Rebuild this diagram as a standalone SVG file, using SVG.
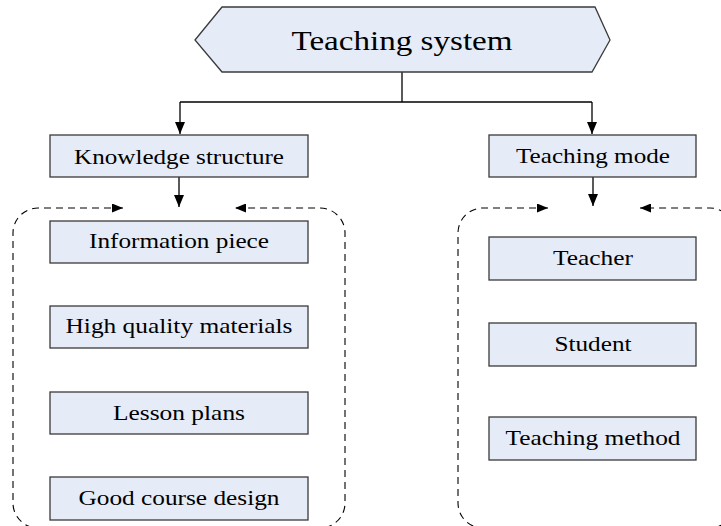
<svg xmlns="http://www.w3.org/2000/svg" width="721" height="526" viewBox="0 0 721 526">
  <style>
    .box { fill: #e6ecf7; stroke: #3a3a3a; stroke-width: 1.3; }
    .line { fill: none; stroke: #000; stroke-width: 1.3; }
    .dash { fill: none; stroke: #000; stroke-width: 1.1; stroke-dasharray: 7 5; }
  </style>
  <defs>
    <marker id="arr" markerUnits="userSpaceOnUse" markerWidth="12" markerHeight="10" refX="12" refY="5" orient="auto">
      <path d="M0,0 L12,5 L0,10 z" fill="#000"/>
    </marker>
    <marker id="darr" markerUnits="userSpaceOnUse" markerWidth="11" markerHeight="9" refX="11" refY="4.5" orient="auto-start-reverse">
      <path d="M0,0 L11,4.5 L0,9 z" fill="#000"/>
    </marker>
  </defs>

  <g id="connectors">
    <path class="line" d="M402,72 V102"/>
    <path class="line" d="M180,102 H592"/>
    <path class="line" d="M180,102 V134" marker-end="url(#arr)"/>
    <path class="line" d="M592,102 V134" marker-end="url(#arr)"/>
    <path class="line" d="M179,177 V207" marker-end="url(#arr)"/>
    <path class="line" d="M593,177 V206" marker-end="url(#arr)"/>
    <path class="dash" d="M123,208 H38 A25,25 0 0 0 13,233 V503 A25,25 0 0 0 38,528 H320 A25,25 0 0 0 345,503 V233 A25,25 0 0 0 320,208 H235" marker-start="url(#darr)" marker-end="url(#darr)"/>
    <path class="dash" d="M548,208 H483 A25,25 0 0 0 458,233 V503 A25,25 0 0 0 483,528 H710 A25,25 0 0 0 735,503 V233 A25,25 0 0 0 710,208 H640" marker-start="url(#darr)" marker-end="url(#darr)"/>
  </g>

  <g id="teaching-system">
    <polygon class="box" points="195,40 222,7 595,7 610,40 592,72 222,72"/>
    <text font-family="'Liberation Serif', serif" font-size="27" text-anchor="middle" x="402" y="50" textLength="221" lengthAdjust="spacingAndGlyphs">Teaching system</text>
  </g>

  <g id="knowledge-structure">
    <rect class="box" x="50" y="135" width="258" height="42"/>
    <text font-family="'Liberation Serif', serif" font-size="21" text-anchor="middle" x="179" y="164" textLength="210" lengthAdjust="spacingAndGlyphs">Knowledge structure</text>
  </g>

  <g id="teaching-mode">
    <rect class="box" x="489" y="135" width="207" height="42"/>
    <text font-family="'Liberation Serif', serif" font-size="21" text-anchor="middle" x="593" y="163" textLength="154" lengthAdjust="spacingAndGlyphs">Teaching mode</text>
  </g>

  <g id="information-piece">
    <rect class="box" x="50" y="221" width="258" height="42"/>
    <text font-family="'Liberation Serif', serif" font-size="21" text-anchor="middle" x="179" y="248" textLength="180" lengthAdjust="spacingAndGlyphs">Information piece</text>
  </g>

  <g id="high-quality-materials">
    <rect class="box" x="50" y="306" width="258" height="42"/>
    <text font-family="'Liberation Serif', serif" font-size="21" text-anchor="middle" x="179" y="333" textLength="227" lengthAdjust="spacingAndGlyphs">High quality materials</text>
  </g>

  <g id="lesson-plans">
    <rect class="box" x="50" y="392" width="258" height="42"/>
    <text font-family="'Liberation Serif', serif" font-size="21" text-anchor="middle" x="179" y="420" textLength="132" lengthAdjust="spacingAndGlyphs">Lesson plans</text>
  </g>

  <g id="good-course-design">
    <rect class="box" x="50" y="477" width="258" height="43"/>
    <text font-family="'Liberation Serif', serif" font-size="21" text-anchor="middle" x="179" y="505" textLength="201" lengthAdjust="spacingAndGlyphs">Good course design</text>
  </g>

  <g id="teacher">
    <rect class="box" x="489" y="237" width="207" height="43"/>
    <text font-family="'Liberation Serif', serif" font-size="21" text-anchor="middle" x="593" y="265" textLength="80" lengthAdjust="spacingAndGlyphs">Teacher</text>
  </g>

  <g id="student">
    <rect class="box" x="489" y="323" width="207" height="43"/>
    <text font-family="'Liberation Serif', serif" font-size="21" text-anchor="middle" x="593" y="351" textLength="77" lengthAdjust="spacingAndGlyphs">Student</text>
  </g>

  <g id="teaching-method">
    <rect class="box" x="489" y="417" width="207" height="43"/>
    <text font-family="'Liberation Serif', serif" font-size="21" text-anchor="middle" x="593" y="445" textLength="175" lengthAdjust="spacingAndGlyphs">Teaching method</text>
  </g>
</svg>
